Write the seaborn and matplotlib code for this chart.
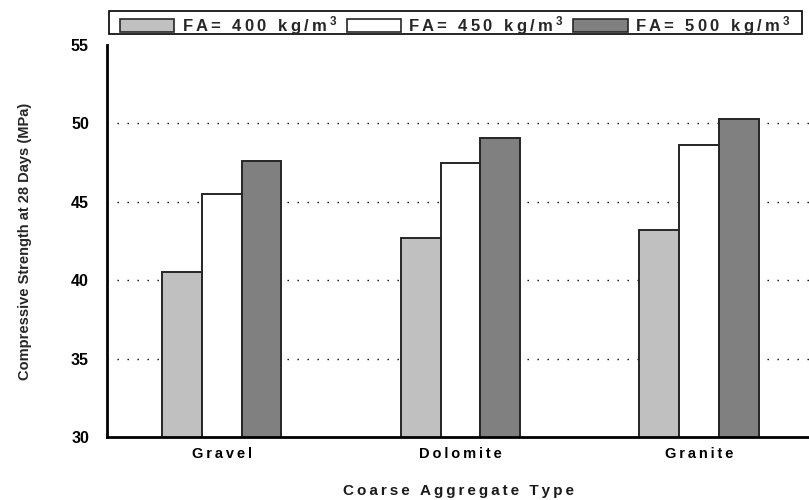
import matplotlib
matplotlib.use("Agg")
import matplotlib.pyplot as plt
import seaborn as sns
import pandas as pd
from matplotlib.patches import Patch, Rectangle

# Compressive strength (MPa) at 28 days by coarse aggregate and fine aggregate content
aggregates = ["Gravel", "Dolomite", "Granite"]
fa_400 = [40.5, 42.7, 43.2]
fa_450 = [45.5, 47.5, 48.6]
fa_500 = [47.6, 49.1, 50.3]
series_labels = ["FA= 400 kg/m$^3$", "FA= 450 kg/m$^3$", "FA= 500 kg/m$^3$"]
y_ticks = [30, 35, 40, 45, 50, 55]

colors = ["#c0c0c0", "#ffffff", "#808080"]

THIN = "\u2009"


def tracked(text, gap=THIN):
    """Widen the letter spacing of a label (math parts kept intact)."""
    out = []
    in_math = False
    for ch in text:
        if ch == "$":
            in_math = not in_math
            out.append(ch)
            continue
        out.append(ch)
        if not in_math:
            out.append(gap)
    return "".join(out).rstrip(gap)


df = pd.DataFrame({
    "Aggregate": aggregates * 3,
    "Strength": fa_400 + fa_450 + fa_500,
    "Mix": [series_labels[0]] * 3 + [series_labels[1]] * 3 + [series_labels[2]] * 3,
})

sns.set_style("white")
plt.rcParams["font.family"] = ["Liberation Sans", "DejaVu Sans"]
plt.rcParams["mathtext.default"] = "regular"

W, H = 809, 500
fig = plt.figure(figsize=(W / 100, H / 100), dpi=100)
ax = fig.add_axes([0.1323, 0.126, 0.8677, 0.784])

sns.barplot(data=df, x="Aggregate", y="Strength", hue="Mix", order=aggregates,
            hue_order=series_labels, palette=colors, width=0.5, gap=0,
            edgecolor="#262626", linewidth=1.4, legend=False, ax=ax, errorbar=None)

ax.set_ylim(30, 55)
ax.set_xlim(-0.48, 2.46)
ax.set_yticks(y_ticks)
ax.set_yticklabels([str(t) for t in y_ticks], fontsize=11.5, fontweight="bold",
                   color="#1a1a1a")
ax.set_xticks(range(len(aggregates)))
ax.set_xticklabels([tracked(a) for a in aggregates], fontsize=10.5, fontweight="bold",
                   color="#1a1a1a")

for v in [35, 40, 45, 50]:
    ax.axhline(v, color="black", linestyle=(0, (1, 6.2)), linewidth=1.0, zorder=0)

for side in ["top", "right"]:
    ax.spines[side].set_visible(False)
for side in ["left", "bottom"]:
    ax.spines[side].set_linewidth(2.0)
    ax.spines[side].set_color("black")

ax.tick_params(axis="y", direction="in", length=4, width=1.2, pad=13, colors="black")
ax.tick_params(axis="x", direction="out", length=4, width=2, pad=3, colors="black")

ax.set_ylabel("Compressive Strength at 28 Days (MPa)", fontsize=10.5, fontweight="bold",
              family=["Liberation Sans Narrow", "Liberation Sans", "DejaVu Sans"], labelpad=28)
ax.set_xlabel(tracked("Coarse Aggregate Type"), fontsize=11,
              fontweight="bold", labelpad=17, color="#1a1a1a")

# Legend without its own frame; a tighter box is drawn around it afterwards
handles = [Patch(facecolor=c, edgecolor="#262626", linewidth=1.2) for c in colors]
leg = fig.legend(handles, [tracked(s) for s in series_labels], ncol=3, loc="upper left",
                 bbox_to_anchor=(120 / W, 1 - 14 / H), frameon=False,
                 handlelength=3.25, handleheight=0.9,
                 handletextpad=0.45, columnspacing=0.55, borderpad=0.0,
                 borderaxespad=0.0, prop={"weight": "bold", "size": 12})

fig.canvas.draw()
bb = leg.get_window_extent()
x0, x1 = bb.x0 - 11, bb.x1 + 11
y0, y1 = bb.y0 + 3, bb.y1 + 3
fig.add_artist(Rectangle((x0 / W, y0 / H), (x1 - x0) / W, (y1 - y0) / H,
                         transform=fig.transFigure, fill=False,
                         edgecolor="black", linewidth=1.2))

fig.savefig("out.png", dpi=100)
